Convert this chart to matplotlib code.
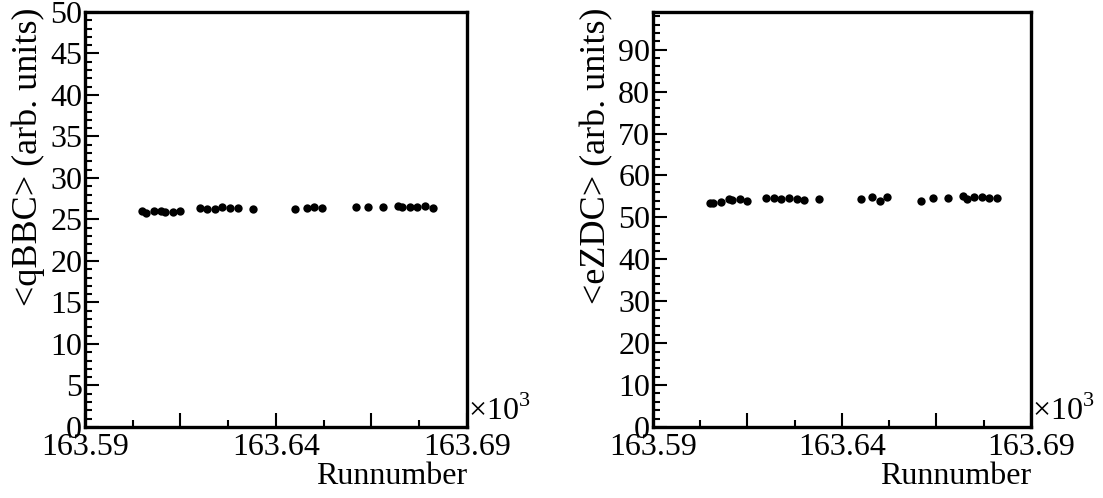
import matplotlib
matplotlib.use('Agg')
import matplotlib.pyplot as plt
from matplotlib.ticker import MultipleLocator, FixedLocator, FuncFormatter
import numpy as np

plt.rcParams['font.family'] = ['Liberation Serif', 'DejaVu Serif']
plt.rcParams['mathtext.fontset'] = 'custom'
plt.rcParams['mathtext.rm'] = 'Liberation Serif'

# run numbers and per-run means
runs = [163605, 163606, 163608, 163610, 163611, 163613, 163615, 163620, 163622,
        163624, 163626, 163628, 163630, 163634, 163645, 163648, 163650, 163652,
        163661, 163664, 163668, 163672, 163673, 163675, 163677, 163679, 163681]
qbbc = [25.96, 25.8, 26.08, 26.0, 25.84, 25.84, 26.08, 26.36, 26.29,
        26.29, 26.48, 26.41, 26.36, 26.24, 26.26, 26.41, 26.48, 26.41,
        26.48, 26.56, 26.56, 26.65, 26.56, 26.56, 26.56, 26.65, 26.41]
ezdc = [53.5, 53.5, 53.75, 54.5, 54.2, 54.3, 53.9, 54.6, 54.6,
        54.5, 54.7, 54.5, 54.2, 54.3, 54.4, 54.9, 53.9, 54.9,
        53.9, 54.7, 54.6, 55.1, 54.5, 54.9, 54.9, 54.6, 54.6]

panels = [
    ('<qBBC> (arb. units)', qbbc, 50, 5, 1, [0.077, 0.1426, 0.3464, 0.8334], 0.026),
    ('<eZDC> (arb. units)', ezdc, 99, 10, 2, [0.592, 0.1426, 0.3427, 0.8334], 0.541),
]

fig = plt.figure(figsize=(11.03, 4.98), dpi=100)
x = np.array(runs) / 1000.0
fs = 23
x0, x1 = 163.59, 163.69

for ylab, vals, ymax, major, minor, rect, ylx in panels:
    ax = fig.add_axes(rect)
    ax.plot(x, vals, 'o', color='black', ms=6, mew=0)
    ax.set_xlim(x0, x1)
    ax.set_ylim(0, ymax)
    for s in ax.spines.values():
        s.set_linewidth(2.4)
    ax.xaxis.set_major_locator(FixedLocator(x0 + np.arange(5) * 0.025))
    ax.xaxis.set_minor_locator(FixedLocator(x0 + np.arange(9) * 0.0125))
    ax.xaxis.set_major_formatter(FuncFormatter(
        lambda v, p: ('%.2f' % v) if p % 2 == 0 else ''))
    ax.yaxis.set_major_locator(MultipleLocator(major))
    ax.yaxis.set_minor_locator(MultipleLocator(minor))
    ax.tick_params(which='both', direction='in', top=False, right=False,
                   labelsize=fs, width=1.5)
    ax.tick_params(which='major', length=10, pad=2)
    ax.tick_params(which='minor', length=5)
    ax.tick_params(axis='x', pad=4)
    ax.text(1.003, 0.0, r'$\times10^{3}$', transform=ax.transAxes,
            fontsize=fs, ha='left', va='bottom')
    ax.set_xlabel('Runnumber', fontsize=fs, loc='right', labelpad=0)
    fig.text(ylx, 0.985, ylab, rotation=90, fontsize=26, ha='center', va='top')

fig.savefig('out.png', dpi=100)
